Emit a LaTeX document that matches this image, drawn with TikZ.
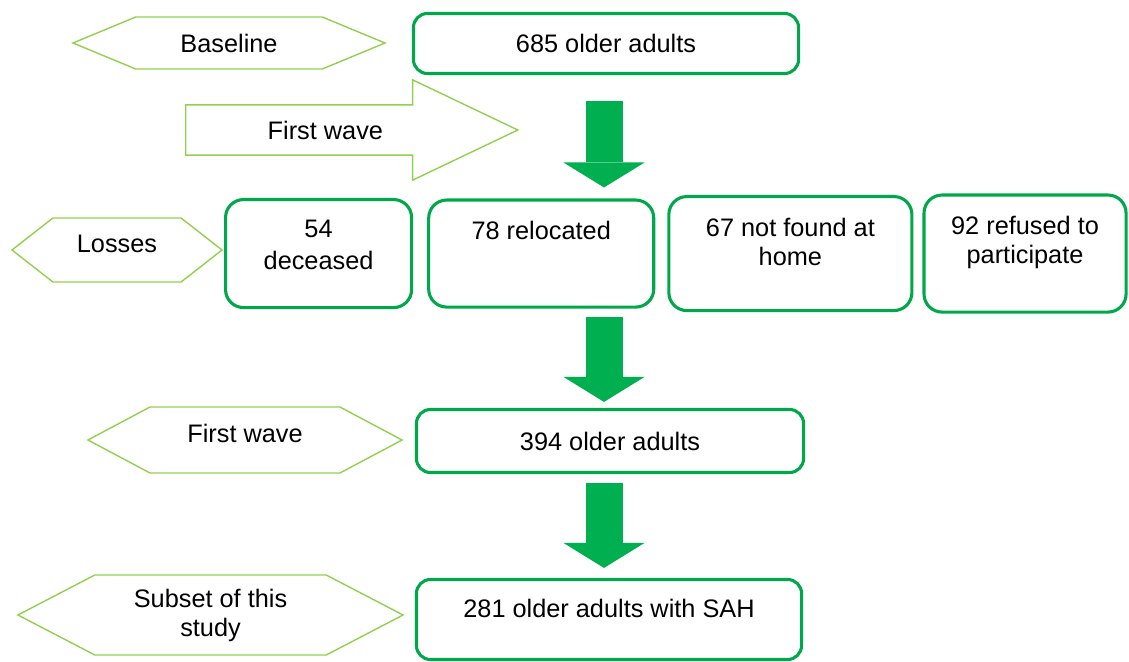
\documentclass[tikz,border=0pt]{standalone}
\usepackage{fontspec}
\setmainfont{Liberation Sans}
\usetikzlibrary{arrows.meta,positioning,shapes.symbols,shapes.arrows,calc}
\definecolor{tagline}{RGB}{146,208,80}
\definecolor{boxline}{RGB}{0,168,75}
\definecolor{flowfill}{RGB}{0,176,80}

\begin{document}
\begin{tikzpicture}[x=0.025cm,y=-0.025cm,font=\fontsize{18}{20.6}\selectfont,
  tag/.style={signal,signal to=west and east,draw=tagline,line width=1pt,align=center,inner sep=0pt},
  stage/.style={draw=boxline,line width=2.2pt,rounded corners=0.35cm,align=center,inner sep=0pt},
  loss/.style={stage,rounded corners=0.45cm},
  wave/.style={single arrow,draw=tagline,line width=1pt,single arrow head extend=0.625cm,
    single arrow tip angle=51,minimum height=8.3cm,minimum width=2.475cm,
    text height=13pt,text depth=0pt,inner xsep=0pt,inner ysep=10.9pt},
  flow/.style={draw=flowfill,line width=0.925cm,
    -{Triangle[length=0.625cm,width=2.025cm,line width=0pt,fill=flowfill]}}]
  \useasboundingbox (0,0) rectangle (1129,662);
  \node[tag,minimum width=7.8cm,minimum height=1.3cm,signal pointer angle=45] (base) at (229,43) {Baseline};
  \node[stage,minimum width=9.625cm,minimum height=1.5cm] (n685) at (606,43.5) {685 older adults};
  \node[wave,anchor=tail] (wave1) at (185,130) {First wave};
  \node[tag,minimum width=5.25cm,minimum height=1.6cm,signal pointer angle=76,text height=13pt,text depth=10pt] (loss) at (117,250) {Losses};
  \node[loss,font=\fontsize{18}{22.8}\selectfont,minimum width=4.65cm,text height=1.7375cm,text depth=0.9625cm,anchor=north west] (dec) at (224,198) {54\\deceased};
  \node[loss,minimum width=5.625cm,text height=0.9875cm,text depth=1.6875cm,right=0.35cm of dec] (rel) {78 relocated};
  \node[loss,minimum width=6.075cm,text height=1.7125cm,text depth=1.1375cm,right=0.3cm of rel] (nfh) {67 not found at\\home};
  \node[loss,minimum width=5.05cm,text height=1.7125cm,text depth=1.2125cm,right=0.225cm of nfh] (ref) {92 refused to\\participate};
  \node[tag,minimum width=7.85cm,minimum height=1.65cm,signal pointer angle=56,text height=13pt,text depth=10pt] (wave2) at (245,440) {First wave};
  \node[stage,minimum width=9.675cm,minimum height=1.575cm] (n394) at (610,441) {394 older adults};
  \node[tag,minimum width=9.625cm,minimum height=2cm,signal pointer angle=55] (sub) at (210.5,615) {Subset of this\\study};
  \node[stage,minimum width=9.625cm,text height=0.9375cm,text depth=1.0625cm] (n281) at (609,619.5) {281 older adults with SAH};
  \coordinate (ax) at (604,0);
  \draw[flow] ($(ax |- n685.south)+(0,26)$) -- ($(ax |- rel.north)+(0,-11)$);
  \draw[flow] ($(ax |- rel.south)+(0,8)$) -- ($(ax |- n394.north)+(0,-6)$);
  \draw[flow] ($(ax |- n394.south)+(0,9)$) -- ($(ax |- n281.north)+(0,-10)$);
\end{tikzpicture}
\end{document}
